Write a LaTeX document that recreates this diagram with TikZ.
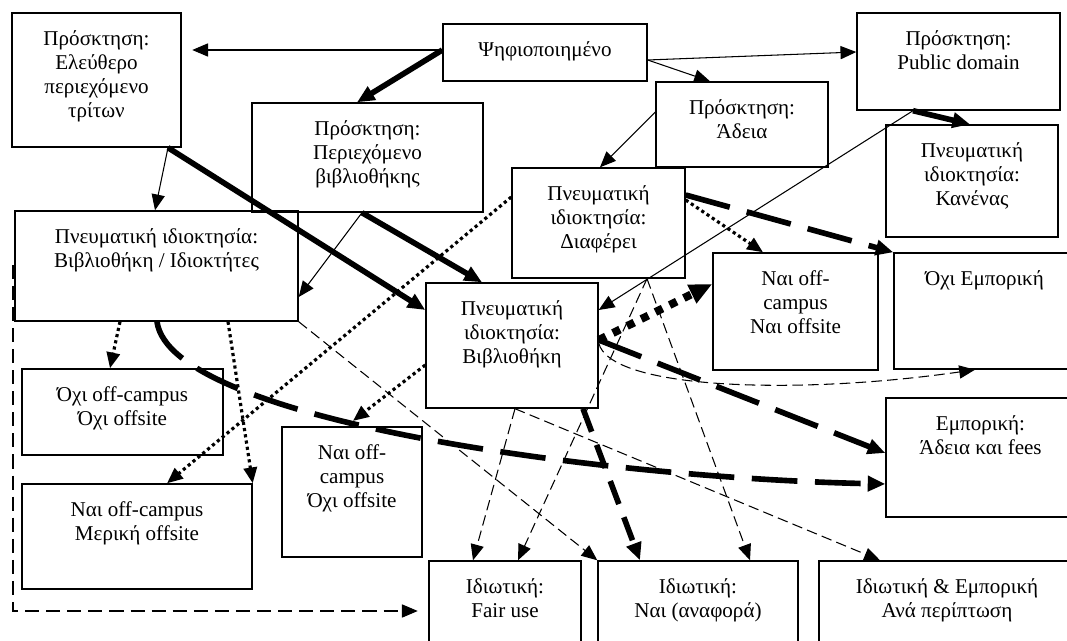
\documentclass[tikz,border=0pt]{standalone}
\usepackage{fontspec}
\setmainfont{Liberation Serif}
\usetikzlibrary{arrows.meta, fit}
\tikzset{
  box/.style={draw, line width=0.8pt, inner sep=0pt},
  txt/.style={anchor=north, align=center, yshift=-7pt, font=\fontsize{12}{13.7}\selectfont},
  plain/.style={->, line width=0.6pt},
  fat/.style={->, line width=3.2pt, >={Triangle[length=10pt,width=8.5pt]}},
  dots/.style={->, line width=1.8pt, dash pattern=on 1.8pt off 1.8pt},
  bigdots/.style={->, line width=4.5pt, dash pattern=on 4.5pt off 4.5pt, >={Triangle[length=13pt,width=11pt]}},
  fatdash/.style={fat, dash pattern=on 26pt off 10pt},
  middash/.style={fat, dash pattern=on 14pt off 8pt},
  thindash/.style={plain, dash pattern=on 6pt off 3pt},
  longdash/.style={plain, dash pattern=on 8pt off 4pt},
}
\begin{document}
\begin{tikzpicture}[x=0.02cm, y=-0.02cm, >={Triangle[length=9pt,width=7.5pt]}]
    \useasboundingbox (0,0) rectangle (1067,641);
    \node [box, fit={(12,13) (181,147)}, label={[txt]north:{Πρόσκτηση:\\Ελεύθερο\\περιεχόμενο\\τρίτων}}] (free) {};
    \node [box, fit={(443,24) (647,81)}, label={[txt]north:{Ψηφιοποιημένο}}] (dig) {};
    \node [box, fit={(252,103) (483,212)}, label={[txt]north:{Πρόσκτηση:\\Περιεχόμενο\\βιβλιοθήκης}}] (libc) {};
    \node [box, fit={(656,82) (828,167)}, label={[txt]north:{Πρόσκτηση:\\Άδεια}}] (lic) {};
    \node [box, fit={(857,13) (1060,110)}, label={[txt]north:{Πρόσκτηση:\\Public domain}}] (pub) {};
    \node [box, fit={(886,125) (1058,237)}, label={[txt]north:{Πνευματική\\ιδιοκτησία:\\Κανένας}}] (none) {};
    \node [box, fit={(512,168) (685,278)}, label={[txt]north:{Πνευματική\\ιδιοκτησία:\\Διαφέρει}}] (vary) {};
    \node [box, fit={(15,211) (298,321)}, label={[txt]north:{Πνευματική ιδιοκτησία:\\Βιβλιοθήκη / Ιδιοκτήτες}}] (own) {};
    \node [box, fit={(426,283) (598,408)}, label={[txt]north:{Πνευματική\\ιδιοκτησία:\\Βιβλιοθήκη}}] (lib) {};
    \node [box, fit={(713,253) (878,370)}, label={[txt]north:{Ναι off-\\campus\\Ναι offsite}}] (yesyes) {};
    \node [box, fit={(894,253) (1075,369)}, label={[txt]north:{Όχι Εμπορική}}] (noncom) {};
    \node [box, fit={(22,369) (223,455)}, label={[txt]north:{Όχι off-campus\\Όχι offsite}}] (nono) {};
    \node [box, fit={(22,484) (252,589)}, label={[txt]north:{Ναι off-campus\\Μερική offsite}}] (yespart) {};
    \node [box, fit={(282,427) (422,557)}, label={[txt]north:{Ναι off-\\campus\\Όχι offsite}}] (yesno) {};
    \node [box, fit={(886,398) (1075,517)}, label={[txt]north:{Εμπορική:\\Άδεια και fees}}] (com) {};
    \node [box, fit={(429,561) (581,661)}, label={[txt]north:{Ιδιωτική:\\Fair use}}] (fair) {};
    \node [box, fit={(598,561) (798,661)}, label={[txt]north:{Ιδιωτική:\\Ναι (αναφορά)}}] (cite) {};
    \node [box, fit={(819,561) (1075,661)}, label={[txt]north:{Ιδιωτική \& Εμπορική\\Ανά περίπτωση}}] (case) {};
    \draw [plain, shorten >=6pt] (dig.west |- 0,50) -- (free.east |- 0,50);
    \draw [plain] (dig.east |- 0,60) -- (pub.west |- 0,52);
    \draw [plain] (dig.east |- 0,60) -- (lic.north -| 710,0);
    \draw [fat] (dig.west |- 0,50) -- (libc.north -| 357,0);
    \draw [plain] (free.south -| 168,0) -- (own.north -| 155,0);
    \draw [fat] (free.south -| 168,0) -- (lib.west |- 0,310);
    \draw [fat] (libc.south -| 362,0) -- (lib.north -| 482,0);
    \draw [plain] (libc.south -| 362,0) -- (own.east |- 0,297);
    \draw [plain] (lic.west |- 0,112) -- (vary.north -| 600,0);
    \draw [plain] (pub.south -| 913,0) -- (lib.east |- 0,310);
    \draw [fat] (pub.south -| 913,0) -- (none.north -| 970,0);
    \draw [dots] (own.south -| 120,0) -- (nono.north -| 110,0);
    \draw [dots] (own.south -| 228,0) -- (yespart.north east);
    \draw [dots] (vary.west |- 0,197) -- (yespart.north -| 167,0);
    \draw [dots, shorten >=5pt] (lib.west |- 0,365) -- (yesno.north -| 346,0);
    \draw [bigdots] (lib.east |- 0,340) -- (yesyes.west |- 0,284);
    \draw [dots] (vary.east |- 0,200) -- (yesyes.north -| 763,0);
    \draw [fatdash] (vary.east |- 0,195) -- (noncom.north west);
    \draw [fatdash] (lib.east |- 0,340) -- (com.west |- 0,453);
    \draw [fatdash] (own.south -| 157,0) .. controls (170,420) and (600,478) .. (com.west |- 0,484);
    \draw [thindash] (lib.east |- 0,343) .. controls (610,390) and (800,395) .. (noncom.south -| 975,0);
    \draw [thindash] (vary.south -| 647,0) -- (fair.north -| 518,0);
    \draw [thindash] (vary.south -| 647,0) -- (cite.north -| 750,0);
    \draw [thindash] (lib.south -| 515,0) -- (fair.north -| 473,0);
    \draw [thindash] (lib.south -| 515,0) -- (case.north -| 880,0);
    \draw [thindash] (own.south east) -- (cite.north west);
    \draw [middash] (lib.south -| 583,0) -- (cite.north -| 640,0);
    \coordinate (bend) at (13,611);
    \draw [longdash, shorten >=6pt] (own.west) -| (bend) -- (fair.west);
\end{tikzpicture}
\end{document}
